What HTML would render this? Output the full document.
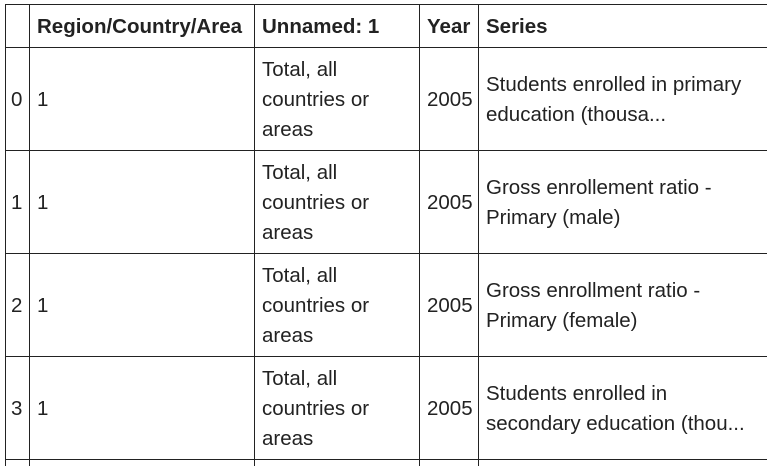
<!DOCTYPE html>
<html><head><meta charset="utf-8"><style>
html,body{margin:0;width:767px;height:466px;overflow:hidden;background:#fff;font-family:"Liberation Sans",Arial,sans-serif;font-size:20.5px;color:#222}
#t{position:relative;width:767px;height:466px;overflow:hidden}
.c{position:absolute;box-sizing:border-box;border-left:1px solid #222;border-top:1px solid #222;display:flex;align-items:center;padding-left:7px;line-height:30px;white-space:nowrap;overflow:hidden}
.h{font-weight:bold}
</style></head><body>
<div id="t"></div>
<script>
const cols=[5,29,254,419,478,767];
const rowsY=[4,47,150,253,356,459,470];
const header=["","Region/Country/Area","Unnamed: 1","Year","Series"];
const data=[
["0","1","Total, all<br>countries or<br>areas","2005","Students enrolled in primary<br>education (thousa..."],
["1","1","Total, all<br>countries or<br>areas","2005","Gross enrollement ratio -<br>Primary (male)"],
["2","1","Total, all<br>countries or<br>areas","2005","Gross enrollment ratio -<br>Primary (female)"],
["3","1","Total, all<br>countries or<br>areas","2005","Students enrolled in<br>secondary education (thou..."],
["","","","",""]];
const t=document.getElementById('t');
const all=[header].concat(data);
all.forEach((row,r)=>{row.forEach((txt,c)=>{
const d=document.createElement('div');
d.className='c'+(r===0?' h':'');


d.style.left=cols[c]+'px';d.style.top=rowsY[r]+'px';
d.style.width=(cols[c+1]-cols[c]+1)+'px';d.style.height=(rowsY[r+1]-rowsY[r]+1)+'px';
if(c===0)d.style.paddingLeft='5px';
d.innerHTML=txt;t.appendChild(d);});});
</script>
</body></html>
